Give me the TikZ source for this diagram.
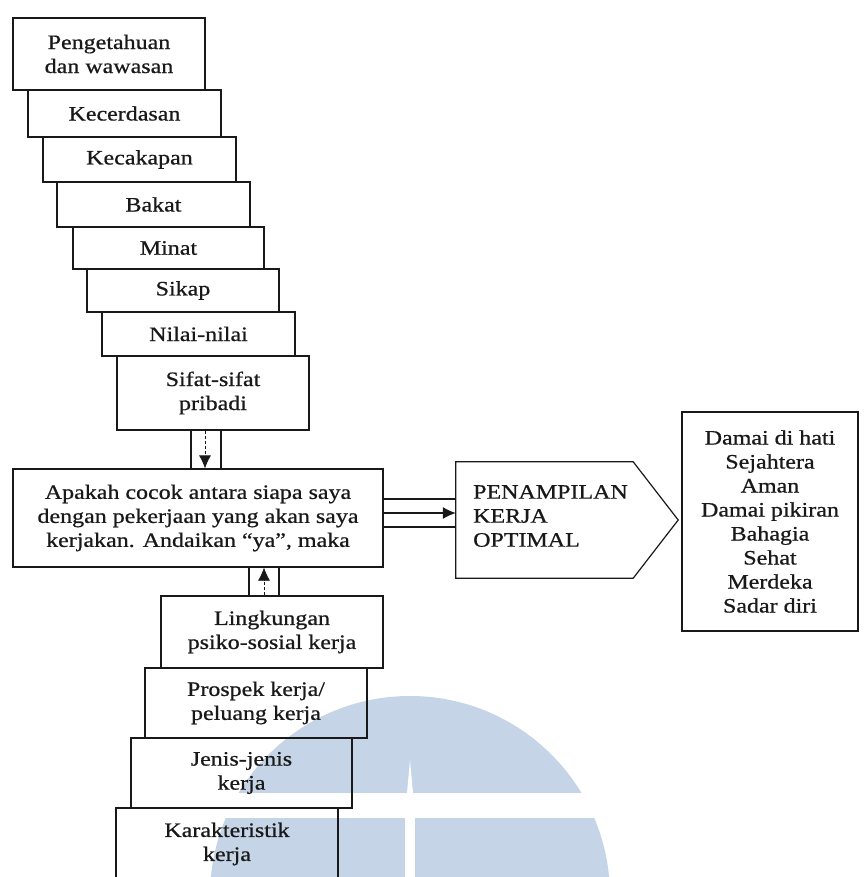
\documentclass[tikz,border=0pt]{standalone}
\usepackage{fontspec}
\setmainfont{Liberation Serif}[FakeStretch=1.17,FakeBold=0.7]
\usetikzlibrary{arrows.meta,calc}
\definecolor{ink}{RGB}{25,25,25}
\definecolor{wm}{RGB}{197,212,230}
\begin{document}
\begin{tikzpicture}[x=1pt,y=-1pt,
  font=\fontsize{20.5}{24}\selectfont,
  every node/.style={text=ink},
  box/.style={draw=ink, line width=1.2pt, inner sep=0pt, align=center},
  link/.style={draw=ink, line width=1.1pt},
  dlink/.style={draw=ink, line width=0.7pt, dash pattern=on 3pt off 2pt},
  tip/.style={-{Latex[length=13pt,width=12pt]}}]
\useasboundingbox (0,0) rectangle (863,877);
\fill[white] (0,0) rectangle (863,877);
\clip (0,0) rectangle (863,877);
% watermark
\fill[wm] (410,896) circle[radius=200];
\fill[white] (0,793) rectangle (863,818);
\fill[white] (405,818) rectangle (415,880);
\fill[white] (410,760) -- (413,793) -- (407,793) -- cycle;
% upper stack
\node[box, minimum width=192pt, minimum height=72pt] (b1) at (109,54) {Pengetahuan\\dan wawasan};
\node[box, minimum width=193pt, minimum height=47pt] (b2) at (124.5,113.5) {Kecerdasan};
\node[box, minimum width=193pt, minimum height=45pt] (b3) at (139.5,159.5) {Kecakapan};
\node[box, minimum width=193pt, minimum height=45pt] (b4) at (153.5,204.5) {Bakat};
\node[box, minimum width=191pt, minimum height=42pt] (b5) at (168.5,248) {Minat};
\node[box, minimum width=192pt, minimum height=43pt] (b6) at (183,290.5) {Sikap};
\node[box, minimum width=193pt, minimum height=44pt] (b7) at (198.5,334) {Nilai-nilai};
\node[box, minimum width=192pt, minimum height=74pt] (b8) at (213,393) {Sifat-sifat\\pribadi};
% main box
\node[box, minimum width=370pt, minimum height=98pt] (main) at (198,518)
  {Apakah cocok antara siapa saya\\dengan pekerjaan yang akan saya\\kerjakan. Andaikan ``ya'', maka};
% pentagon
\node[inner sep=0pt, minimum width=222pt, minimum height=116pt] (pen) at (567,520) {};
\draw[ink, line width=1.2pt] (pen.north west) -- ([xshift=-45pt]pen.north east) -- (pen.east)
  -- ([xshift=-45pt]pen.south east) -- (pen.south west) -- cycle;
\node[anchor=west, align=left, inner sep=0pt] (pentext) at (473,516) {PENAMPILAN\\KERJA\\OPTIMAL};
% right box
\node[box, minimum width=176pt, minimum height=219pt] (res) at (770,521.5)
  {Damai di hati\\Sejahtera\\Aman\\Damai pikiran\\Bahagia\\Sehat\\Merdeka\\Sadar diri};
% lower stack
\node[box, minimum width=222pt, minimum height=72pt] (l1) at (272,632) {Lingkungan\\psiko-sosial kerja};
\node[box, minimum width=222pt, minimum height=70pt] (l2) at (256,703) {Prospek kerja/\\peluang kerja};
\node[box, minimum width=221pt, minimum height=70pt] (l3) at (241.5,773) {Jenis-jenis\\kerja};
\node[box, minimum width=222pt, minimum height=92pt] (l4) at (227,854) {};
\node[align=center, inner sep=0pt] (l4t) at (227,844) {Karakteristik\\kerja};
% connectors top
\draw[link] ([xshift=-22pt]b8.south) -- ([xshift=-22pt]b8.south |- main.north);
\draw[link] ([xshift=8pt]b8.south) -- ([xshift=8pt]b8.south |- main.north);
\draw[dlink, tip] ([xshift=-8pt]b8.south) -- ([xshift=-8pt]b8.south |- main.north);
% connectors bottom
\draw[link] ([xshift=-23pt]l1.north) -- ([xshift=-23pt]l1.north |- main.south);
\draw[link] ([xshift=7pt]l1.north) -- ([xshift=7pt]l1.north |- main.south);
\draw[dlink, tip] ([xshift=-8pt]l1.north) -- ([xshift=-8pt]l1.north |- main.south);
% connectors right
\draw[link] ([yshift=19pt]main.east) -- ([yshift=19pt]main.east -| pen.west);
\draw[link, tip] ([yshift=5pt]main.east) -- ([yshift=5pt]main.east -| pen.west);
\draw[link] ([yshift=-9pt]main.east) -- ([yshift=-9pt]main.east -| pen.west);
\end{tikzpicture}
\end{document}
